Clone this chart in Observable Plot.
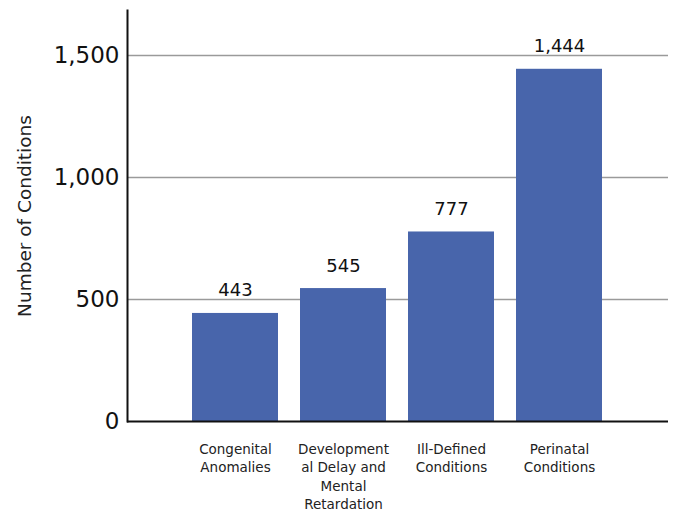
<!DOCTYPE html>
<html>
<head>
<meta charset="utf-8">
<script src="https://cdn.jsdelivr.net/npm/d3@7"></script>
<script src="https://cdn.jsdelivr.net/npm/@observablehq/plot@0.6"></script>
<style>
  html, body { margin: 0; padding: 0; background: #fff; }
  #chart svg { display: block; }
</style>
</head>
<body>
<div id="chart"></div>
<script>
const categories = [
  "Congenital\nAnomalies",
  "Development\nal Delay and\nMental\nRetardation",
  "Ill-Defined\nConditions",
  "Perinatal\nConditions"
];
const values = [443, 545, 777, 1444];
const yTicks = [0, 500, 1000, 1500];
const yLabel = "Number of Conditions";

const data = categories.map((c, i) => ({category: c, value: values[i]}));
const fmt = d3.format(",");

const chart = Plot.plot({
  width: 673,
  height: 514,
  marginLeft: 127,
  marginRight: 5,
  marginTop: 10,
  marginBottom: 93,
  style: {fontFamily: "DejaVu Sans", background: "#fff", color: "#222"},
  x: {domain: categories, paddingInner: 0.2, paddingOuter: 0.6, label: null},
  y: {domain: [0, 1685], label: null},
  marks: [
    Plot.gridY(yTicks.filter(d => d > 0), {stroke: "#9a9a9a", strokeOpacity: 1, strokeWidth: 1.5}),
    Plot.barY(data, {x: "category", y: "value", fill: "#4865ab"}),
    Plot.text(data, {x: "category", y: "value", text: d => fmt(d.value), dy: -17, lineAnchor: "bottom", fontSize: 18, fill: "#111"}),
    Plot.axisY({ticks: yTicks, tickFormat: d => fmt(d), tickSize: 0, tickPadding: 8, fontSize: 23, label: null, fill: "#111"}),
    Plot.axisX({tickSize: 0, tickPadding: 19, fontSize: 13.5, lineHeight: 1.37, label: null, fill: "#222"}),
    Plot.text([yLabel], {frameAnchor: "left", rotate: -90, text: d => d, textAnchor: "middle", dx: -102, fontSize: 18.5, fill: "#222"}),
    Plot.frame({anchor: "left", stroke: "#111", strokeWidth: 2}),
    Plot.ruleY([0], {stroke: "#111", strokeWidth: 2})
  ]
});
document.getElementById("chart").appendChild(chart);
</script>
</body>
</html>
